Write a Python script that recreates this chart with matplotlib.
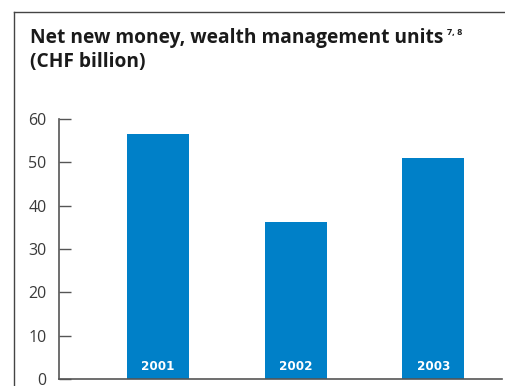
import matplotlib
matplotlib.use('Agg')
import matplotlib.pyplot as plt
from matplotlib.lines import Line2D

years = ['2001', '2002', '2003']
net_new_money = [56.5, 36.3, 50.9]
y_ticks = [0, 10, 20, 30, 40, 50, 60]

W, H = 506, 386
fig = plt.figure(figsize=(W / 100, H / 100), dpi=100)

# axes placed in pixel terms
left, right, bottom, top = 59, 502, 379, 119
ax = fig.add_axes([left / W, 1 - bottom / H, (right - left) / W, (bottom - top) / H])

xs = list(range(len(years)))
ax.bar(xs, net_new_money, width=0.45, color='#0080C8', zorder=2)
for x, lab in zip(xs, years):
    ax.text(x, 2.0, lab, ha='center', va='baseline', color='white',
            fontsize=9.5, fontweight='bold', family='DejaVu Sans', fontstretch='condensed')

ax.set_xlim(-0.72, 2.5)
ax.set_ylim(0, 60)
ax.set_yticks(y_ticks)
ax.set_yticklabels([str(v) for v in y_ticks], family='Open Sans', fontsize=11.5,
                   color='#3a3a3a')
ax.set_xticks([])
ax.tick_params(axis='y', direction='in', length=8.5, width=1, color='#555555', pad=9)
for side in ['top', 'right']:
    ax.spines[side].set_visible(False)
for side in ['left', 'bottom']:
    ax.spines[side].set_color('#555555')
    ax.spines[side].set_linewidth(1.2)

# frame around the title panel
fig.add_artist(Line2D([14.5 / W, 14.5 / W], [0, 1 - 12 / H], color='#444444', lw=1.0))
fig.add_artist(Line2D([14.5 / W, 1], [1 - 12 / H, 1 - 12 / H], color='#444444', lw=1.0))

title = fig.text(30 / W, 1 - 43 / H, 'Net new money, wealth management units', fontsize=13.8,
                 fontweight='bold', family='Open Sans', color='#1a1a1a', va='baseline')
fig.text(30 / W, 1 - 67 / H, '(CHF billion)', fontsize=13.8,
         fontweight='bold', family='Open Sans', color='#1a1a1a', va='baseline')

# footnote marks sit just after the first title line
renderer = fig.canvas.get_renderer()
bb = title.get_window_extent(renderer)
fig.text((bb.x1 + 4) / W, 1 - 35 / H, '7, 8', fontsize=6.5, fontweight='bold',
         family='Open Sans', color='#1a1a1a', va='baseline')

fig.savefig('out.png', dpi=100)
